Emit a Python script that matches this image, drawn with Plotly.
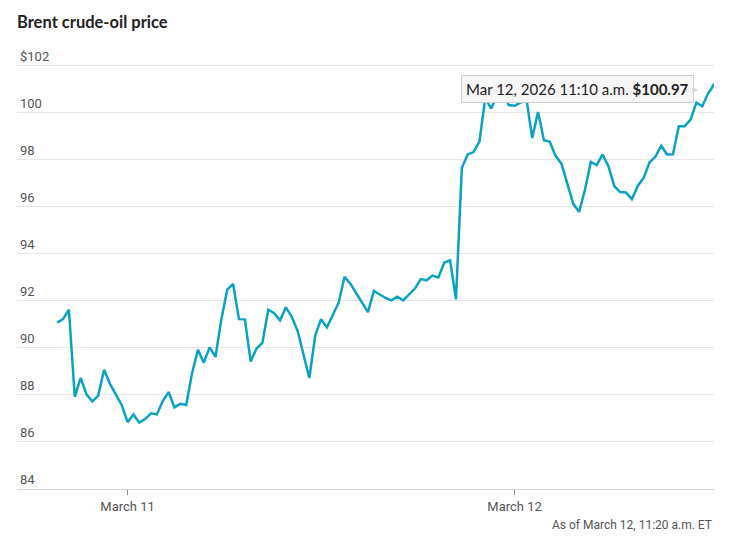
import plotly.graph_objects as go
import pandas as pd

# ---- data ----
session1 = pd.date_range("2026-03-10 20:00", "2026-03-11 17:40", freq="20min")
session2 = pd.date_range("2026-03-11 20:00", "2026-03-12 11:00", freq="20min")
times = list(session1) + list(session2) + [pd.Timestamp("2026-03-12 11:10"),
                                           pd.Timestamp("2026-03-12 11:20")]

prices = [
    91.05, 91.2, 91.6, 87.9, 88.7, 88.0, 87.7, 87.95, 89.05, 88.45,
    88.0, 87.55, 86.82, 87.15, 86.8, 86.95, 87.2, 87.15, 87.72, 88.1,
    87.45, 87.6, 87.55, 88.9, 89.9, 89.35, 90.0, 89.6, 91.2, 92.45,
    92.7, 91.2, 91.19, 89.4, 89.95, 90.2, 91.6, 91.45, 91.15, 91.7,
    91.3, 90.7, 89.7, 88.7, 90.5, 91.2, 90.85, 91.4, 91.9, 93.0,
    92.7, 92.3, 91.9, 91.5, 92.4, 92.25, 92.1, 92.0, 92.15, 92.0,
    92.27, 92.5, 92.9, 92.85, 93.05, 92.97,
    93.6, 93.7, 92.04, 97.62,
    98.2, 98.3, 98.75, 100.6, 100.15, 100.7, 100.9, 100.3, 100.27, 100.4,
    100.6, 98.9, 100.0, 98.8, 98.74, 98.13, 97.8, 97.0, 96.1, 95.76,
    96.7, 97.88, 97.75, 98.2, 97.7, 96.85, 96.6, 96.58, 96.3, 96.86,
    97.2, 97.86, 98.1, 98.57, 98.2, 98.21, 99.4, 99.4, 99.68, 100.4,
    100.25, 100.8,
    100.97, 101.2,
]

y_ticks = [84, 86, 88, 90, 92, 94, 96, 98, 100, 102]
y_tick_text = ["84", "86", "88", "90", "92", "94", "96", "98", "100", "$102"]
x_ticks = ["2026-03-11 00:00", "2026-03-12 00:00"]
x_tick_text = ["March 11", "March 12"]

tooltip_time = "2026-03-12 11:10"
tooltip_price = 100.97

NARROW = "Liberation Sans Narrow, Roboto, sans-serif"
LINE_COLOR = "#0aa2c0"

fig = go.Figure()
fig.add_trace(go.Scatter(
    x=times, y=prices, mode="lines",
    line=dict(color=LINE_COLOR, width=2.5),
    hoverinfo="skip",
))

fig.update_layout(
    width=750, height=537,
    margin=dict(l=17, r=36, t=34, b=48),
    plot_bgcolor="white", paper_bgcolor="white",
    showlegend=False,
    title=dict(
        text="<b>Brent crude-oil price</b>",
        x=17 / 750, xanchor="left", xref="container",
        y=1 - 22 / 537, yanchor="middle", yref="container",
        font=dict(family="Lato", size=16.5, color="#222222"),
    ),
)

fig.update_xaxes(
    type="date",
    range=["2026-03-10 15:43", "2026-03-12 11:20"],
    rangebreaks=[dict(bounds=[18, 20], pattern="hour")],
    tickvals=x_ticks, ticktext=x_tick_text,
    ticks="outside", ticklen=5, tickcolor="#888888", tickwidth=1,
    showgrid=False, zeroline=False,
    showline=True, linecolor="#d0d0d0", linewidth=1,
    tickfont=dict(family=NARROW, size=13, color="#555555"),
)

fig.update_yaxes(
    range=[83.98, 103.32],
    tickvals=y_ticks, ticktext=y_tick_text,
    ticklabelposition="inside top",
    ticks="", showgrid=True, gridcolor="#e6e6e6", gridwidth=1,
    zeroline=False, showline=False,
    tickfont=dict(family=NARROW, size=13, color="#555555"),
)

# tooltip box
fig.add_annotation(
    x=tooltip_time, y=tooltip_price, xref="x", yref="y",
    text="Mar 12, 2026 11:10 a.m. <b>$%.2f</b>" % tooltip_price,
    showarrow=False, xanchor="right", yanchor="middle", xshift=-17,
    bgcolor="#f7f7f7", bordercolor="#cfcfcf", borderwidth=1, borderpad=4,
    font=dict(family="Lato", size=15, color="#222222"),
)
# tooltip pointer
fig.add_annotation(
    x=tooltip_time, y=tooltip_price, xref="x", yref="y",
    text="\u25b8", showarrow=False, xanchor="right", yanchor="middle",
    xshift=-11, font=dict(family="DejaVu Sans", size=12, color="#d6d6d6"),
)

fig.add_annotation(
    x=1, y=-0.08, xref="paper", yref="paper",
    text="As of March 12, 11:20 a.m. ET",
    showarrow=False, xanchor="right", yanchor="middle",
    font=dict(family=NARROW, size=12, color="#555555"),
)

fig.write_html("out.html")
